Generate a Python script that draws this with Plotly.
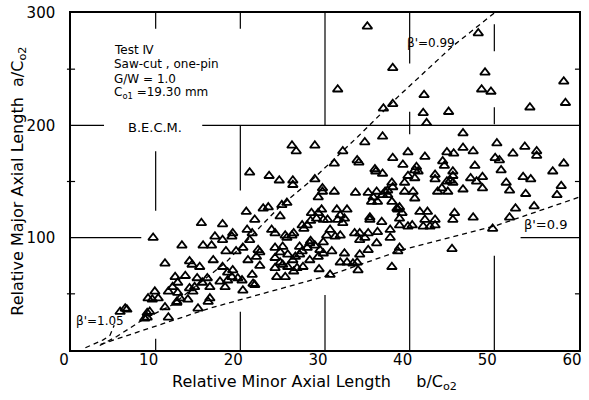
import plotly.graph_objects as go

# ---- data: (b/Co2, a/Co2), grouped by region ----
pts_lower_left = [(9.7,100),(13.1,93),(15.6,93),(11.1,77),(14.0,79),(14.3,76),(15.2,74),(12.3,65),(13.5,66),
    (12.6,60),(12.0,56),(14.9,64),(15.5,60),(14.6,56),(14.4,52),(14.0,55),(11.5,52),(12.6,51),(12.9,46),
    (13.8,45),(12.5,43),(9.9,52),(9.1,46),(9.6,45),(10.3,46),(11.1,38),(12.5,42),(15.0,37),(9.0,33),(9.3,34),
    (8.7,28),(9.0,29),(11.5,29),(5.8,34),(6.4,37),(6.6,36)]
pts_mid_left = [(15.4,113),(17.9,112),(21.7,116),(24.7,119),(20.7,123),(23.3,127),(22.7,126),(25.5,131),(24.9,129),
    (28.4,122),(29.2,122),(29.0,117),(27.3,111),(27.9,111),(24.1,104),(23.7,107),(20.8,107),(21.4,104),(25.3,102),
    (26.1,102),(25.5,100),(17.0,101),(19.0,101),(19.1,104),(16.6,93),(17.9,98),(20.3,91),(22.1,89),(24.1,91),
    (24.7,87),(25.0,92),(27.0,92),(27.9,91),(28.2,95),(28.8,93),(25.6,85),(27.0,85),(26.2,80),(24.1,82),(24.7,78),
    (25.0,76),(24.1,73),(25.6,74),(26.7,73),(27.4,74),(22.3,75),(28.2,80),(29.2,83),(16.8,80),(17.9,74),(18.5,69),
    (19.1,71),(19.7,64),(19.0,65),(20.2,62),(21.4,67),(21.5,59),(18.5,62),(17.6,61),(18.2,56),(16.1,64),(16.4,56),
    (16.4,46),(20.3,53),(21.7,58),(16.2,43),(29.2,136),(19.5,88),(18.3,88),(21.9,83),(20.9,80),(24.3,65),(25.3,65),
    (26.3,70),(26.5,83),(27.3,88),(26.3,104),(27.5,108),(28.3,115),(28.3,97),(21.1,98),(22.3,87),(29.3,72)]
pts_mid_left_high = [(26.1,182),(26.6,177),(28.8,182),(21.1,158),(23.4,155),(24.6,151),(26.2,151),(26.2,147),(28.8,152)]
pts_center_high = [(42.0,202),(36.8,190),(34.7,185),(32.1,177),(31.1,166),(33.8,169),(34.0,167),(39.8,176),(38.0,171),
    (39.2,165),(40.8,163),(41.0,159),(40.6,160),(41.8,172),(43.0,156),(43.0,152),(35.9,161),(36.0,159),(36.8,157),
    (39.8,155),(40.6,153),(39.4,149),(37.9,149),(38.0,145),(37.4,142),(37.1,141),(39.4,141),(40.4,141),(40.6,135),
    (29.7,144),(29.7,141),(31.1,141),(33.6,140),(35.1,140),(35.7,136),(36.1,141),(35.5,132),(36.2,132),(36.8,138),
    (37.4,138),(43.3,141),(43.8,144),(37.9,132),(38.5,126),(38.6,125),(38.8,127),(29.6,125),(30.3,116),(29.8,116),
    (31.4,125),(32.6,125),(31.8,120),(32.3,117),(31.5,116),(32.1,113),(35.3,118),(35.3,116),(36.7,114),(38.8,117),
    (41.2,123),(42.1,123),(41.8,116),(43.0,116),(39.1,122),(43.9,168),(44.1,164)]
pts_center_low = [(30.6,67),(37.9,74),(38.8,91),(38.6,88),(35.1,89),(36.1,95),(34.1,85),(33.8,78),(33.3,77),(32.6,78),
    (31.8,78),(32.3,86),(30.8,88),(29.8,86),(29.4,89),(33.9,71),(33.5,104),(34.1,104),(35.1,104),(36.2,105),
    (37.7,107),(37.7,100),(34.1,98),(34.7,100),(30.6,107),(30.2,102),(31.2,101),(31.8,102),(29.8,96),(38.8,111),
    (39.8,110),(40.3,111),(41.6,110),(42.4,110),(43.0,111),(45.0,90)]
pts_right = [(44.6,212),(54.2,216),(58.4,220),(46.3,193),(44.4,176),(45.2,175),(46.3,180),(47.5,177),(50.3,184),
    (53.6,181),(52.2,175),(55.0,177),(55.0,173),(50.1,171),(50.6,169),(58.2,166),(56.9,159),(45.1,159),(45.1,155),
    (47.7,164),(50.8,160),(53.4,154),(54.3,152),(44.4,150),(44.8,151),(45.1,149),(47.2,153),(47.9,150),(48.6,154),
    (57.9,146),(57.4,138),(46.3,143),(48.6,144),(51.8,142),(53.7,139),(52.5,126),(54.7,128),(51.8,118),(45.3,122),
    (45.1,116),(47.5,118),(49.8,108),(44.5,141),(51.4,149)]
pts_top = [(35.0,288),(48.1,282),(38.0,251),(48.9,247),(58.2,239),(31.5,232),(41.7,227),(48.5,232),(49.6,230),
    (36.9,215),(38.0,219),(41.6,211)]

curve_105_b = [1.7, 3.8, 4.6, 5.1]
curve_105_a = [2, 9, 13, 22]
curve_099_b = [3.4, 5.4, 8.5, 11.9, 18.3, 24.7, 28.7, 33.9, 38.7, 45.0, 50.5]
curve_099_a = [4, 12, 27, 40, 78, 128, 153, 190, 226, 270, 303]
curve_09_b = [3.5, 16.3, 30.7, 39.1, 50.3, 60.0]
curve_09_a = [5, 37, 67, 89, 111, 136]

x_ticks = [0, 10, 20, 30, 40, 50, 60]
y_ticks = [100, 200, 300]

all_pts = (pts_lower_left + pts_mid_left + pts_mid_left_high + pts_center_high +
           pts_center_low + pts_right + pts_top)
b_vals = [p[0] for p in all_pts]
a_vals = [p[1] for p in all_pts]

FONT = "DejaVu Sans"
fig = go.Figure()

dash_style = dict(color="black", width=1.3, dash="5px,4px")
for bx, ay in [(curve_105_b, curve_105_a), (curve_099_b, curve_099_a), (curve_09_b, curve_09_a)]:
    fig.add_trace(go.Scatter(x=bx, y=ay, mode="lines", line=dash_style, hoverinfo="skip", showlegend=False))

fig.add_trace(go.Scatter(x=b_vals, y=a_vals, mode="markers", showlegend=False,
                         marker=dict(symbol="triangle-up-open", size=8.5, color="black",
                                     line=dict(width=1.8, color="black"))))

# partial grid lines as in the original figure
grid_segments = [
    (10, 286, 10, 300), (10, 124, 10, 177), (10, 0, 10, 10),
    (20, 286, 20, 300), (20, 142, 20, 200), (20, 0, 20, 34),
    (30, 200, 30, 300), (30, 0, 30, 49),
    (40, 255, 40, 300), (40, 192, 40, 212), (40, 0, 40, 73),
    (50, 266, 50, 290), (50, 201, 50, 216), (50, 0, 50, 84),
    (0, 200, 3.9, 200), (15.5, 200, 60, 200),
    (0, 100, 8.3, 100), (53.1, 100, 60, 100),
]
shapes = [dict(type="line", xref="x", yref="y", x0=x0, y0=y0, x1=x1, y1=y1,
               line=dict(color="black", width=1.2)) for x0, y0, x1, y1 in grid_segments]
for yv in [50, 150, 250]:
    shapes.append(dict(type="line", xref="paper", yref="y", x0=-0.008, x1=0.008, y0=yv, y1=yv,
                       line=dict(color="black", width=1.2)))
    shapes.append(dict(type="line", xref="paper", yref="y", x0=0.992, x1=1.0, y0=yv, y1=yv,
                       line=dict(color="black", width=1.2)))

ann = []
def txt(x, y, s, size=12, xanchor="left", xref="x", yref="y", angle=0):
    ann.append(dict(x=x, y=y, xref=xref, yref=yref, text=s, showarrow=False, xanchor=xanchor,
                    yanchor="middle", textangle=angle, font=dict(family=FONT, size=size, color="black")))

txt(4.9, 267, "Test Ⅳ", 12)
txt(4.9, 254.5, "Saw-cut , one-pin", 12)
txt(4.9, 241.5, "G/W = 1.0", 12)
txt(4.9, 228.5, "C<sub>o1</sub> =19.30 mm", 12)
txt(9.9, 198, "B.E.C.M.", 13, xanchor="center")
txt(39.5, 273, "β'=0.99", 12)
txt(53.3, 112, "β'=0.9", 13)
txt(0.4, 26, "β'=1.05", 12)
txt(0.48, -0.097, "Relative Minor Axial Length\u00a0\u00a0\u00a0\u00a0\u00a0b/C<sub>o2</sub>", 16,
    xanchor="center", xref="paper", yref="paper")
txt(-0.104, 0.5, "Relative Major Axial Length\u00a0\u00a0a/C<sub>o2</sub>", 16,
    xanchor="center", xref="paper", yref="paper", angle=-90)

fig.update_layout(
    width=589, height=400,
    margin=dict(l=71, r=10, t=13, b=50, autoexpand=False),
    paper_bgcolor="white", plot_bgcolor="white",
    shapes=shapes, annotations=ann,
    xaxis=dict(range=[0, 60], tickvals=x_ticks, ticks="", showgrid=False, zeroline=False,
               showline=True, mirror=True, linecolor="black", linewidth=1.5, automargin=False,
               ticklabelshift=-7, ticklabelstandoff=-5,
               tickfont=dict(family=FONT, size=15, color="black")),
    yaxis=dict(range=[0, 300], tickvals=y_ticks, ticks="", showgrid=False, zeroline=False,
               showline=True, mirror=True, linecolor="black", linewidth=1.5, automargin=False,
               ticklabelstandoff=11,
               tickfont=dict(family=FONT, size=15, color="black")),
)

fig.write_html("out.html", config={"displayModeBar": False},
               post_script="document.body.style.margin='0';document.body.style.padding='0';")
